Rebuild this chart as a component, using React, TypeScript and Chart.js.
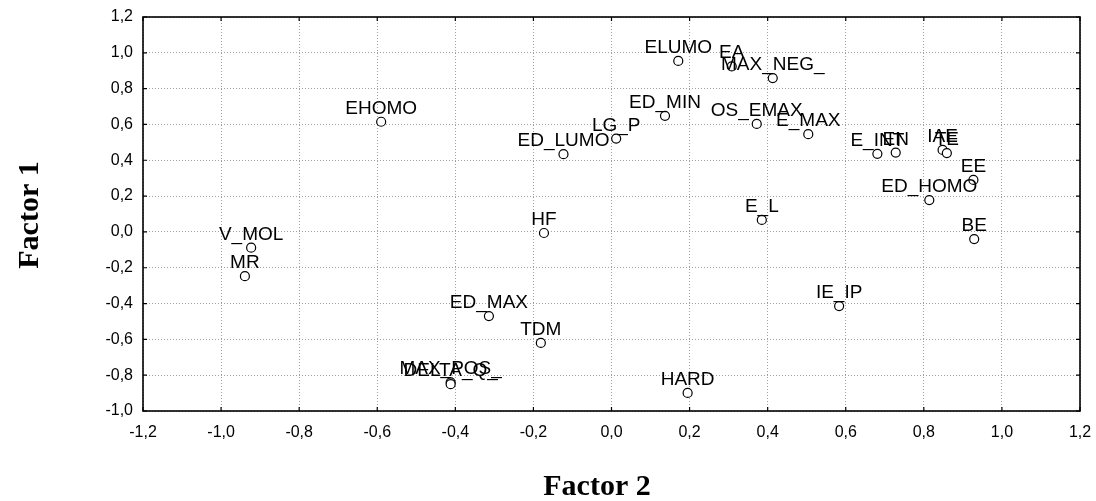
import React, { useEffect, useRef } from 'react';
import { Chart, registerables } from 'chart.js';
Chart.register(...registerables);

const variableNames = [
  'ELUMO', 'EA', 'MAX_NEG_', 'EHOMO', 'ED_MIN', 'OS_EMAX', 'E_MAX', 'LG_P', 'ED_LUMO',
  'E_INT', 'EN', 'IAE', 'TE', 'EE', 'ED_HOMO', 'HF', 'E_L', 'BE', 'V_MOL', 'MR',
  'IE_IP', 'ED_MAX', 'TDM', 'MAX_POS_', 'DELTA_Q_', 'HARD',
];
const factor2Values = [
  0.171, 0.308, 0.413, -0.590, 0.137, 0.372, 0.504, 0.012, -0.123,
  0.681, 0.728, 0.848, 0.859, 0.927, 0.814, -0.173, 0.385, 0.929, -0.923, -0.939,
  0.583, -0.314, -0.181, -0.412, -0.412, 0.195,
];
const factor1Values = [
  0.955, 0.924, 0.859, 0.615, 0.648, 0.603, 0.546, 0.521, 0.434,
  0.436, 0.443, 0.458, 0.440, 0.290, 0.178, -0.006, 0.067, -0.040, -0.088, -0.247,
  -0.414, -0.470, -0.620, -0.840, -0.850, -0.899,
];
const xAxisTitle = 'Factor 2';
const yAxisTitle = 'Factor 1';
const xMin = -1.2, xMax = 1.2, yMin = -1.0, yMax = 1.2, tickStep = 0.2;

const fmt = (v: number) => {
  let s = (Math.round(v * 10) / 10).toFixed(1);
  if (s === '-0.0') s = '0.0';
  return s.replace('.', ',');
};

const decorPlugin = {
  id: 'decor',
  afterDatasetsDraw(chart: any) {
    const { ctx, chartArea, scales } = chart;
    const xs = scales.x, ys = scales.y;
    ctx.save();
    // point labels
    ctx.fillStyle = '#000';
    ctx.font = '19px "Liberation Sans", Arial, sans-serif';
    ctx.textAlign = 'center';
    ctx.textBaseline = 'alphabetic';
    variableNames.forEach((name, i) => {
      const px = xs.getPixelForValue(factor2Values[i]);
      const py = ys.getPixelForValue(factor1Values[i]);
      ctx.fillText(name, px, py - 8);
    });
    // frame
    ctx.strokeStyle = '#000';
    ctx.lineWidth = 1.6;
    ctx.strokeRect(chartArea.left, chartArea.top, chartArea.right - chartArea.left, chartArea.bottom - chartArea.top);
    // inward ticks
    ctx.lineWidth = 1.2;
    const tl = 4;
    xs.ticks.forEach((t: any) => {
      const p = xs.getPixelForValue(t.value);
      ctx.beginPath();
      ctx.moveTo(p, chartArea.bottom); ctx.lineTo(p, chartArea.bottom - tl);
      ctx.moveTo(p, chartArea.top); ctx.lineTo(p, chartArea.top + tl);
      ctx.stroke();
    });
    ys.ticks.forEach((t: any) => {
      const p = ys.getPixelForValue(t.value);
      ctx.beginPath();
      ctx.moveTo(chartArea.left, p); ctx.lineTo(chartArea.left + tl, p);
      ctx.moveTo(chartArea.right, p); ctx.lineTo(chartArea.right - tl, p);
      ctx.stroke();
    });
    // axis titles
    ctx.font = 'bold 30px "Liberation Serif", "Times New Roman", serif';
    ctx.textAlign = 'center';
    ctx.textBaseline = 'alphabetic';
    ctx.fillText(xAxisTitle, 597, 495);
    ctx.translate(38, 215);
    ctx.rotate(-Math.PI / 2);
    ctx.fillText(yAxisTitle, 0, 0);
    ctx.restore();
  },
};

export default function App() {
  const ref = useRef<HTMLCanvasElement>(null);
  useEffect(() => {
    if (!ref.current) return;
    const chart = new Chart(ref.current, {
      type: 'scatter',
      data: {
        datasets: [
          {
            data: factor2Values.map((x, i) => ({ x, y: factor1Values[i] })),
            pointStyle: 'circle',
            pointRadius: 4.5,
            pointBorderWidth: 1.2,
            pointBorderColor: '#000',
            pointBackgroundColor: '#fff',
          },
        ],
      },
      options: {
        animation: false,
        responsive: true,
        maintainAspectRatio: false,
        layout: { padding: { top: 17, right: 16, bottom: 0, left: 0 } },
        plugins: { legend: { display: false }, tooltip: { enabled: false } },
        scales: {
          x: {
            type: 'linear',
            min: xMin,
            max: xMax,
            afterFit: (s: any) => { s.height = 90; s.paddingLeft = 0; s.paddingRight = 0; },
            ticks: {
              stepSize: tickStep,
              callback: (v: any) => fmt(Number(v)),
              color: '#000',
              font: { family: '"Liberation Sans", Arial, sans-serif', size: 16 },
              padding: 12,
              maxRotation: 0,
            },
            grid: { color: '#a0a0a0', lineWidth: 1, drawTicks: false },
            border: { display: false, dash: [1, 2] },
          },
          y: {
            type: 'linear',
            min: yMin,
            max: yMax,
            afterFit: (s: any) => { s.width = 143; s.paddingTop = 0; s.paddingBottom = 0; },
            ticks: {
              stepSize: tickStep,
              callback: (v: any) => fmt(Number(v)),
              color: '#000',
              font: { family: '"Liberation Sans", Arial, sans-serif', size: 16 },
              padding: 10,
            },
            grid: { color: '#a0a0a0', lineWidth: 1, drawTicks: false },
            border: { display: false, dash: [1, 2] },
          },
        },
      },
      plugins: [decorPlugin],
    });
    return () => chart.destroy();
  }, []);
  return (
    <div style={{ position: 'absolute', left: 0, top: 0, width: 1096, height: 501 }}>
      <canvas ref={ref} />
    </div>
  );
}
